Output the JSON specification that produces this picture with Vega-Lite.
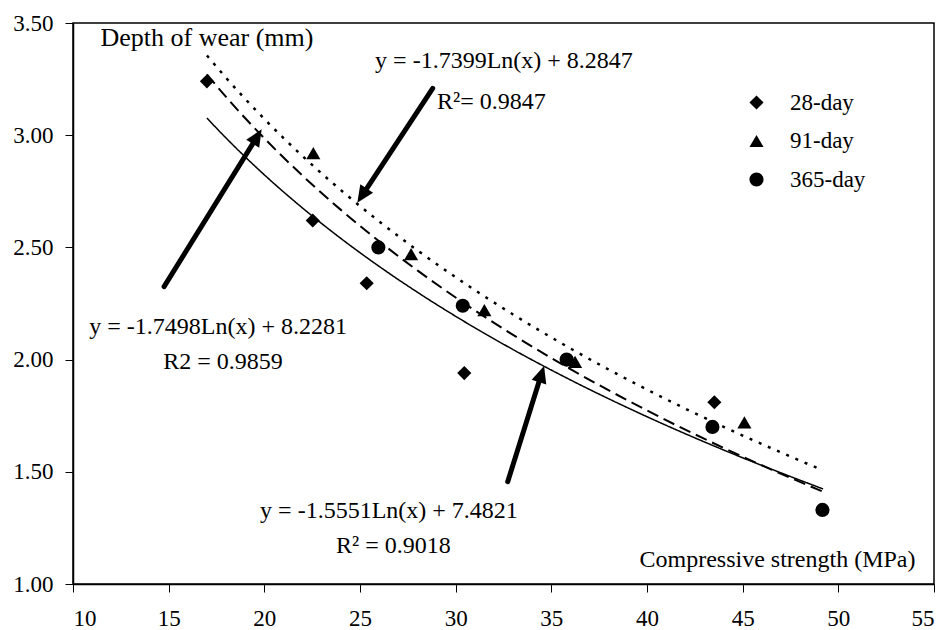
{
  "$schema": "https://vega.github.io/schema/vega-lite/v6.json",
  "width": 861,
  "height": 561,
  "autosize": {"type": "none"},
  "padding": {"left": 73, "top": 23, "right": 14, "bottom": 46},
  "background": "white",
  "config": {
    "font": "Liberation Serif",
    "view": {"stroke": "black", "strokeWidth": 1.5},
    "style": {
      "guide-label": {"font": "Liberation Serif", "fill": "black"},
      "guide-title": {"font": "Liberation Serif", "fill": "black"}
    },
    "axis": {
      "grid": false,
      "domainColor": "black",
      "domainWidth": 1.5,
      "tickColor": "black",
      "tickWidth": 1,
      "tickSize": 8,
      "labelColor": "black",
      "labelFont": "Liberation Serif",
      "labelFontSize": 23,
      "titleFont": "Liberation Serif",
      "titleColor": "black",
      "titleFontWeight": "normal"
    },
    "text": {"font": "Liberation Serif"}
  },
  "datasets": {
    "points": [
      {"series": "28-day", "x": 17.0, "y": 3.24},
      {"series": "28-day", "x": 22.53, "y": 2.62},
      {"series": "28-day", "x": 25.35, "y": 2.34},
      {"series": "28-day", "x": 30.45, "y": 1.94},
      {"series": "28-day", "x": 43.52, "y": 1.81},
      {"series": "91-day", "x": 22.56, "y": 2.92},
      {"series": "91-day", "x": 27.67, "y": 2.47},
      {"series": "91-day", "x": 31.5, "y": 2.22},
      {"series": "91-day", "x": 36.24, "y": 1.99},
      {"series": "91-day", "x": 45.09, "y": 1.72},
      {"series": "365-day", "x": 25.96, "y": 2.50},
      {"series": "365-day", "x": 30.37, "y": 2.24},
      {"series": "365-day", "x": 35.8, "y": 2.00},
      {"series": "365-day", "x": 43.42, "y": 1.70},
      {"series": "365-day", "x": 49.17, "y": 1.33}
    ],
    "fits": [
      {"fit": "solid", "x": 17, "y": 3.0762},
      {"fit": "solid", "x": 18, "y": 2.9873},
      {"fit": "solid", "x": 20, "y": 2.8234},
      {"fit": "solid", "x": 22, "y": 2.6752},
      {"fit": "solid", "x": 24, "y": 2.5399},
      {"fit": "solid", "x": 26, "y": 2.4154},
      {"fit": "solid", "x": 28, "y": 2.3002},
      {"fit": "solid", "x": 30, "y": 2.1929},
      {"fit": "solid", "x": 33, "y": 2.0447},
      {"fit": "solid", "x": 36, "y": 1.9094},
      {"fit": "solid", "x": 40, "y": 1.7455},
      {"fit": "solid", "x": 44, "y": 1.5973},
      {"fit": "solid", "x": 49.2, "y": 1.4236},
      {"fit": "dashed", "x": 17, "y": 3.2706},
      {"fit": "dashed", "x": 18, "y": 3.1705},
      {"fit": "dashed", "x": 20, "y": 2.9862},
      {"fit": "dashed", "x": 22, "y": 2.8194},
      {"fit": "dashed", "x": 24, "y": 2.6672},
      {"fit": "dashed", "x": 26, "y": 2.5271},
      {"fit": "dashed", "x": 28, "y": 2.3974},
      {"fit": "dashed", "x": 30, "y": 2.2767},
      {"fit": "dashed", "x": 33, "y": 2.1099},
      {"fit": "dashed", "x": 36, "y": 1.9577},
      {"fit": "dashed", "x": 40, "y": 1.7733},
      {"fit": "dashed", "x": 44, "y": 1.6065},
      {"fit": "dashed", "x": 49.2, "y": 1.4111},
      {"fit": "dotted", "x": 17, "y": 3.3552},
      {"fit": "dotted", "x": 18, "y": 3.2557},
      {"fit": "dotted", "x": 20, "y": 3.0724},
      {"fit": "dotted", "x": 22, "y": 2.9066},
      {"fit": "dotted", "x": 24, "y": 2.7552},
      {"fit": "dotted", "x": 26, "y": 2.6159},
      {"fit": "dotted", "x": 28, "y": 2.4870},
      {"fit": "dotted", "x": 30, "y": 2.3670},
      {"fit": "dotted", "x": 33, "y": 2.2011},
      {"fit": "dotted", "x": 36, "y": 2.0497},
      {"fit": "dotted", "x": 40, "y": 1.8664},
      {"fit": "dotted", "x": 44, "y": 1.7006},
      {"fit": "dotted", "x": 49.2, "y": 1.5062}
    ],
    "arrows": [
      {"id": "a1", "x0": 14.76, "y0": 2.325, "x1": 19.53, "y1": 2.981, "tx": 19.86, "ty": 3.026},
      {"id": "a2", "x0": 28.80, "y0": 3.209, "x1": 25.21, "y1": 2.744, "tx": 24.86, "ty": 2.699},
      {"id": "a3", "x0": 32.72, "y0": 1.456, "x1": 34.43, "y1": 1.921, "tx": 34.62, "ty": 1.972}
    ],
    "labels": [
      {"text": "y = -1.7399Ln(x) + 8.2847", "x": 25.79, "y": 3.299},
      {"text": "R²= 0.9847", "x": 29.03, "y": 3.117},
      {"text": "y = -1.7498Ln(x) + 8.2281", "x": 10.85, "y": 2.114},
      {"text": "R2 = 0.9859", "x": 14.72, "y": 1.957},
      {"text": "y = -1.5551Ln(x) + 7.4821", "x": 19.78, "y": 1.293},
      {"text": "R² = 0.9018", "x": 23.75, "y": 1.137}
    ]
  },
  "layer": [
    {
      "data": {"name": "fits"},
      "mark": {"type": "line", "color": "black", "interpolate": "monotone"},
      "encoding": {
        "x": {"field": "x", "type": "quantitative",
          "scale": {"domain": [10, 55], "nice": false, "zero": false},
          "axis": {"values": [10, 15, 20, 25, 30, 35, 40, 45, 50, 55], "format": "d", "labelPadding": 15,
            "labelFont": "Liberation Serif", "labelFontSize": 23, "labelColor": "black",
            "encode": {"labels": {"update": {"font": {"value": "Liberation Serif"}}}},
            "title": "Compressive strength (MPa)", "titleFontSize": 24, "titleAngle": 0,
            "titleFont": "Liberation Serif",
            "titleX": 842, "titleY": -18, "titleAlign": "right", "titleBaseline": "alphabetic", "titleAnchor": null}},
        "y": {"field": "y", "type": "quantitative",
          "scale": {"domain": [1, 3.5], "nice": false, "zero": false},
          "axis": {"values": [1, 1.5, 2, 2.5, 3, 3.5], "format": ".2f", "labelPadding": 12,
            "labelFont": "Liberation Serif", "labelFontSize": 23, "labelColor": "black",
            "encode": {"labels": {"update": {"font": {"value": "Liberation Serif"}}}},
            "title": "Depth of wear (mm)", "titleFontSize": 26, "titleAngle": 0,
            "titleFont": "Liberation Serif",
            "titleX": 27, "titleY": 22, "titleAlign": "left", "titleBaseline": "alphabetic", "titleAnchor": null}},
        "strokeDash": {"field": "fit", "type": "nominal", "legend": null,
          "scale": {"domain": ["solid", "dashed", "dotted"], "range": [[1, 0], [12, 6], [3, 7]]}},
        "strokeWidth": {"field": "fit", "type": "nominal", "legend": null,
          "scale": {"domain": ["solid", "dashed", "dotted"], "range": [1.5, 2.5, 2]}}
      }
    },
    {
      "data": {"name": "points"},
      "mark": {"type": "point", "filled": true, "color": "black", "size": 200, "opacity": 1},
      "encoding": {
        "x": {"field": "x", "type": "quantitative"},
        "y": {"field": "y", "type": "quantitative"},
        "shape": {"field": "series", "type": "nominal",
          "scale": {"domain": ["28-day", "91-day", "365-day"], "range": ["diamond", "triangle-up", "circle"]},
          "legend": {"title": null, "orient": "none", "legendX": 672, "legendY": 68,
            "labelFontSize": 23, "labelFont": "Liberation Serif", "labelColor": "black",
            "labelOffset": 22, "rowPadding": 14.5, "symbolSize": 200, "padding": 0,
            "symbolFillColor": "black", "symbolStrokeWidth": 0, "symbolOpacity": 1}}
      }
    },
    {
      "data": {"name": "arrows"},
      "mark": {"type": "rule", "color": "black", "strokeWidth": 5, "strokeCap": "round"},
      "encoding": {
        "x": {"field": "x0", "type": "quantitative"},
        "y": {"field": "y0", "type": "quantitative"},
        "x2": {"field": "x1"},
        "y2": {"field": "y1"}
      }
    },
    {
      "data": {"name": "arrows"},
      "transform": [{"filter": "datum.id === 'a1'"}],
      "mark": {"type": "point", "filled": true, "color": "black", "opacity": 1, "size": 1156, "angle": 31.8, "shape": "M0,0L-0.45,1L0.45,1Z"},
      "encoding": {
        "x": {"field": "tx", "type": "quantitative"},
        "y": {"field": "ty", "type": "quantitative"}
      }
    },
    {
      "data": {"name": "arrows"},
      "transform": [{"filter": "datum.id === 'a2'"}],
      "mark": {"type": "point", "filled": true, "color": "black", "opacity": 1, "size": 1156, "angle": 213.4, "shape": "M0,0L-0.45,1L0.45,1Z"},
      "encoding": {
        "x": {"field": "tx", "type": "quantitative"},
        "y": {"field": "ty", "type": "quantitative"}
      }
    },
    {
      "data": {"name": "arrows"},
      "transform": [{"filter": "datum.id === 'a3'"}],
      "mark": {"type": "point", "filled": true, "color": "black", "opacity": 1, "size": 1156, "angle": 17.4, "shape": "M0,0L-0.45,1L0.45,1Z"},
      "encoding": {
        "x": {"field": "tx", "type": "quantitative"},
        "y": {"field": "ty", "type": "quantitative"}
      }
    },
    {
      "data": {"name": "labels"},
      "mark": {"type": "text", "align": "left", "baseline": "alphabetic", "font": "Liberation Serif", "fontSize": 24, "color": "black"},
      "encoding": {
        "x": {"field": "x", "type": "quantitative"},
        "y": {"field": "y", "type": "quantitative"},
        "text": {"field": "text"}
      }
    }
  ]
}
